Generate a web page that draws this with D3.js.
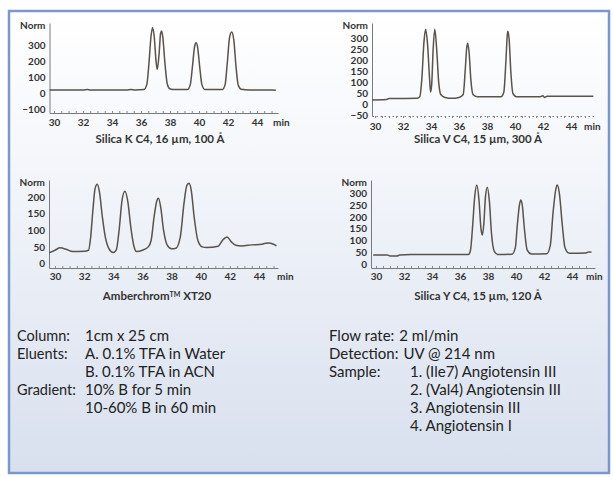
<!DOCTYPE html>
<html>
<head>
<meta charset="utf-8">
<script src="https://cdn.jsdelivr.net/npm/d3@7"></script>
<style>
  body { margin: 0; background: #fff; }
  svg { display: block; font-family: Lato, 'Open Sans', sans-serif; }
</style>
</head>
<body>
<svg id="chart" width="613" height="477"></svg>
<script>
// Traces : [minutes, Norm]
var silicaK = [[29.7, 22], [32.0, 22], [32.3, 25], [32.5, 22], [35.0, 22], [35.3, 25], [35.6, 22], [36.2, 25],
  [36.4, 55], [36.55, 190], [36.7, 365], [36.8, 410], [36.9, 365], [37.05, 190], [37.12, 150], [37.25, 250],
  [37.35, 375], [37.42, 390], [37.5, 355], [37.65, 190], [37.8, 65], [37.95, 32], [38.2, 24], [39.2, 24],
  [39.4, 55], [39.55, 170], [39.7, 295], [39.8, 316], [39.9, 290], [40.05, 165], [40.2, 55], [40.4, 25],
  [41.6, 24], [41.8, 55], [41.95, 190], [42.1, 345], [42.25, 384], [42.4, 335], [42.55, 170], [42.7, 55],
  [42.9, 27], [43.5, 22], [45.0, 22], [45.3, 20]]

var silicaV = [[29.8, 20], [30.8, 22], [31.0, 27], [33.0, 28], [33.2, 35], [33.35, 120], [33.5, 285], [33.62, 340],
  [33.75, 275], [33.9, 115], [33.97, 56], [34.05, 90], [34.15, 245], [34.27, 340], [34.4, 255], [34.55, 100],
  [34.7, 45], [35.0, 32], [35.5, 28], [36.0, 32], [36.3, 45], [36.45, 160], [36.55, 255], [36.62, 277],
  [36.72, 235], [36.85, 110], [37.0, 45], [37.3, 35], [39.0, 35], [39.2, 55], [39.35, 195], [39.45, 315],
  [39.5, 331], [39.58, 295], [39.7, 150], [39.85, 50], [40.1, 35], [41.8, 35], [42.0, 40], [42.1, 32],
  [42.3, 37], [45.6, 37]]

var amberchrom = [[29.6, 32], [30.0, 40], [30.35, 47], [30.8, 42], [31.2, 36], [32.0, 37], [32.3, 40], [32.45, 80],
  [32.6, 160], [32.75, 225], [32.9, 238], [33.05, 215], [33.25, 140], [33.45, 80], [33.7, 45], [34.0, 33],
  [34.2, 40], [34.4, 100], [34.6, 190], [34.8, 217], [35.0, 185], [35.2, 110], [35.4, 55], [35.6, 36],
  [36.0, 40], [36.4, 50], [36.6, 70], [36.8, 140], [37.0, 190], [37.1, 196], [37.25, 170], [37.45, 100],
  [37.7, 55], [38.0, 44], [38.3, 46], [38.6, 80], [38.85, 180], [39.05, 235], [39.2, 241], [39.35, 220],
  [39.55, 140], [39.8, 70], [40.1, 50], [40.4, 48], [41.2, 52], [41.5, 70], [41.8, 80], [42.1, 65],
  [42.4, 55], [42.8, 53], [43.5, 56], [44.2, 58], [44.6, 62], [45.0, 58], [45.2, 53]]

var silicaY = [[29.8, 40], [30.8, 40], [31.0, 36], [31.5, 36], [31.7, 40], [32.5, 42], [36.6, 42], [36.75, 60],
  [36.9, 160], [37.05, 285], [37.2, 334], [37.35, 275], [37.5, 150], [37.6, 124], [37.7, 170], [37.82, 285],
  [37.95, 325], [38.1, 265], [38.25, 130], [38.45, 55], [38.7, 42], [39.7, 43], [39.95, 70], [40.1, 170],
  [40.25, 252], [40.35, 271], [40.45, 248], [40.6, 150], [40.8, 60], [41.1, 44], [42.2, 45], [42.45, 80],
  [42.65, 220], [42.85, 318], [42.95, 334], [43.1, 298], [43.3, 170], [43.5, 70], [43.8, 47], [45.0, 48],
  [45.2, 53], [45.4, 52]]

// Graduations
var xTicks = [30, 32, 34, 36, 38, 40, 42, 44]
var yTicksK = [-100, 0, 100, 200, 300]
var yTicksV = [-50, 0, 50, 100, 150, 200, 250, 300]
var yTicksA = [0, 50, 100, 150, 200]
var yTicksY = [0, 50, 100, 150, 200, 250, 300]

// Textes du bas
var leftLabels = ['Column:', 'Eluents:', '', 'Gradient:', '']
var leftValues = ['1cm x 25 cm', 'A. 0.1% TFA in Water', 'B. 0.1% TFA in ACN', '10% B for 5 min', '10-60% B in 60 min']
var rightLabels = ['Flow rate:', 'Detection:', 'Sample:', '', '', '']
var rightValues = ['2 ml/min', 'UV @ 214 nm', '1. (Ile7) Angiotensin III', '2. (Val4) Angiotensin III',
  '3. Angiotensin III', '4. Angiotensin I']

// Mise en page des quatre panneaux
var panels = [
  { data: silicaK, yTicks: yTicksK, title: 'Silica K C4, 16 µm, 100 Å', titleX: 160, titleY: 143,
    x30: 54, x44: 257, axisLeft: 49.5, axisRight: 278, yDomain: [-122, 440], yRange: [113, 23],
    labelPad: 6, minX: 273, dotted: false },
  { data: silicaV, yTicks: yTicksV, title: 'Silica V C4, 15 µm, 300 Å', titleX: 478, titleY: 143,
    x30: 375, x44: 571, axisLeft: 372, axisRight: 595, yDomain: [-52, 368], yRange: [116, 23],
    labelPad: 6.5, minX: 584, dotted: true },
  { data: amberchrom, yTicks: yTicksA, title: 'Amberchrom', titleX: 157, titleY: 300,
    x30: 55, x44: 259, axisLeft: 49, axisRight: 278, yDomain: [-13.5, 251], yRange: [268, 180],
    labelPad: 5, minX: 277, dotted: false },
  { data: silicaY, yTicks: yTicksY, title: 'Silica Y C4, 15 µm, 120 Å', titleX: 478, titleY: 300,
    x30: 376, x44: 572, axisLeft: 371, axisRight: 595, yDomain: [-14.7, 355], yRange: [268, 180],
    labelPad: 5, minX: 586, dotted: false }
]

var svg = d3.select('#chart')

/**
 * Fond dégradé et cadre bleu
 */
function drawFrame () {
  var grad = svg.append('defs').append('linearGradient')
    .attr('id', 'bg').attr('x1', 0).attr('y1', 0).attr('x2', 0).attr('y2', 1)
  grad.append('stop').attr('offset', 0).attr('stop-color', '#ffffff')
  grad.append('stop').attr('offset', 0.3).attr('stop-color', '#f5f7fb')
  grad.append('stop').attr('offset', 1).attr('stop-color', '#d8e0ee')

  svg.append('rect')
    .attr('x', 9).attr('y', 11).attr('width', 600).attr('height', 462)
    .attr('fill', 'url(#bg)')
    .attr('stroke', '#7b97cc')
    .attr('stroke-width', 2.5)
}

/**
 * @param p
 */
function drawPanel (p) {
  var xScale = d3.scaleLinear().domain([30, 44]).range([p.x30, p.x44])
  var yScale = d3.scaleLinear().domain(p.yDomain).range(p.yRange)
  var xAxisScale = d3.scaleLinear()
    .domain([xScale.invert(p.axisLeft), xScale.invert(p.axisRight)])
    .range([p.axisLeft, p.axisRight])
  var g = svg.append('g')

  // axe des ordonnées
  var yAxis = g.append('g')
    .attr('transform', 'translate(' + p.axisLeft + ',0)')
    .call(d3.axisLeft(yScale).tickValues(p.yTicks).tickSize(0).tickSizeOuter(0).tickPadding(4))
  yAxis.select('.domain').attr('stroke', '#7a7a7a')

  g.append('text')
    .attr('x', p.axisLeft - 4)
    .attr('y', p.yRange[1] + 3)
    .attr('dy', '0.32em')
    .attr('text-anchor', 'end')
    .text('Norm')

  // axe des abscisses, petites graduations
  var minor = g.append('g')
    .attr('transform', 'translate(0,' + p.yRange[0] + ')')
    .call(d3.axisBottom(xAxisScale).tickValues(d3.range(30, 45.5, 0.5)).tickSize(p.dotted ? 2 : -2).tickSizeOuter(0).tickFormat(''))
  minor.selectAll('.tick line').attr('stroke', '#8a8a8a')
  minor.select('.domain').attr('stroke', '#7a7a7a')
    .attr('stroke-dasharray', p.dotted ? '1.5,2.5' : null)

  var xAxis = g.append('g')
    .attr('transform', 'translate(0,' + p.yRange[0] + ')')
    .call(d3.axisBottom(xScale).tickValues(xTicks).tickSize(0).tickPadding(p.labelPad))
  xAxis.select('.domain').remove()

  g.append('text')
    .attr('x', p.minX)
    .attr('y', p.yRange[0] + p.labelPad)
    .attr('dy', '0.71em')
    .text('min')

  g.selectAll('text')
    .attr('font-size', 10)
    .attr('font-weight', 'bold')
    .attr('fill', '#333')
    .attr('font-family', 'Lato, sans-serif')

  // trace du chromatogramme
  var line = d3.line()
    .x(function (d) { return xScale(d[0]) })
    .y(function (d) { return yScale(d[1]) })
    .curve(d3.curveMonotoneX)

  g.append('path')
    .datum(p.data)
    .attr('d', line)
    .attr('fill', 'none')
    .attr('stroke', '#5a524b')
    .attr('stroke-width', 1.5)
    .attr('stroke-linejoin', 'round')

  // titre
  var title = g.append('text')
    .attr('x', p.titleX)
    .attr('y', p.titleY)
    .attr('text-anchor', 'middle')
    .attr('font-size', 11.5)
    .attr('font-weight', 'bold')
    .attr('fill', '#333')
    .text(p.title)
  if (p.title === 'Amberchrom') {
    title.append('tspan').attr('font-size', 7).attr('dy', -3).text('TM')
    title.append('tspan').attr('dy', 3).text(' XT20')
  }
}

/**
 * Conditions opératoires
 */
function drawNotes () {
  var notes = svg.append('g')
    .attr('font-size', 15)
    .attr('fill', '#222')

  leftLabels.forEach(function (d, i) {
    notes.append('text').attr('x', 17).attr('y', 336 + i * 18).attr('dy', '0.35em')
      .attr('font-size', 14.5).text(d)
    notes.append('text').attr('x', 85).attr('y', 336 + i * 18).attr('dy', '0.35em').text(leftValues[i])
  })

  rightLabels.forEach(function (d, i) {
    var label = notes.append('text').attr('x', 329).attr('y', 336 + i * 18).attr('dy', '0.35em').text(d)
    var vx = i < 2 ? 329 + label.node().getComputedTextLength() + 5 : 410
    notes.append('text').attr('x', vx).attr('y', 336 + i * 18).attr('dy', '0.35em').text(rightValues[i])
  })
}

drawFrame()
panels.forEach(drawPanel)
drawNotes()
</script>
</body>
</html>
